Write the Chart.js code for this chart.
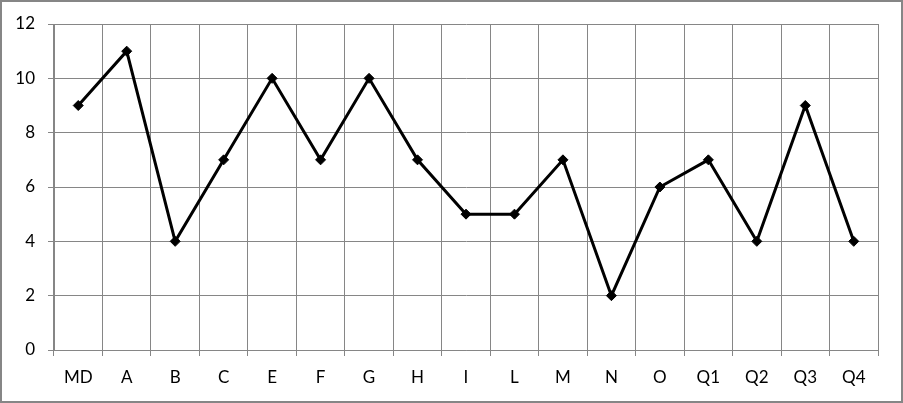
<!DOCTYPE html>
<html>
<head>
<meta charset="utf-8">
<script src="https://cdn.jsdelivr.net/npm/chart.js@4/dist/chart.umd.min.js"></script>
<style>
html,body{margin:0;padding:0;background:#fff;}
#wrap{width:903px;height:403px;position:relative;}
</style>
</head>
<body>
<div id="wrap"><canvas id="c" width="903" height="403"></canvas></div>
<script>
const categories = ["MD","A","B","C","E","F","G","H","I","L","M","N","O","Q1","Q2","Q3","Q4"];
const values = [9,11,4,7,10,7,10,7,5,5,7,2,6,7,4,9,4];
const yTicks = [0,2,4,6,8,10,12];

const gridColor = '#868686';
const borderPlugin = {
  id: 'outerBorder',
  afterDraw(chart) {
    const ctx = chart.ctx;
    ctx.save();
    ctx.strokeStyle = '#868686';
    ctx.lineWidth = 2;
    ctx.strokeRect(1, 1, chart.width - 2, chart.height - 2);
    ctx.restore();
  }
};

new Chart(document.getElementById('c'), {
  type: 'line',
  data: {
    labels: categories,
    datasets: [{
      data: values,
      borderColor: '#000',
      backgroundColor: '#000',
      borderWidth: 3,
      pointStyle: 'rectRot',
      pointRadius: 5,
      pointBorderWidth: 1,
      tension: 0,
      fill: false
    }]
  },
  options: {
    responsive: false,
    animation: false,
    devicePixelRatio: 1,
    layout: { padding: { left: 0, right: 25, top: 24, bottom: 0 } },
    plugins: { legend: { display: false }, tooltip: { enabled: false } },
    scales: {
      x: {
        offset: true,
        grid: { offset: true, color: gridColor, lineWidth: 1, tickLength: 6, drawTicks: true },
        border: { color: gridColor, width: 1 },
        ticks: { color: '#000', font: { family: 'Lato', size: 17 }, padding: 11, maxRotation: 0, autoSkip: false },
        afterFit(s) { s.height = 53; }
      },
      y: {
        min: 0, max: 12,
        afterBuildTicks(s) { s.ticks = yTicks.map(v => ({ value: v })); },
        grid: { color: gridColor, lineWidth: 1, tickLength: 6 },
        border: { color: gridColor, width: 1 },
        ticks: { color: '#000', font: { family: 'Lato', size: 17 }, padding: 13 },
        afterFit(s) { s.width = 54; }
      }
    }
  },
  plugins: [borderPlugin]
});
</script>
</body>
</html>
